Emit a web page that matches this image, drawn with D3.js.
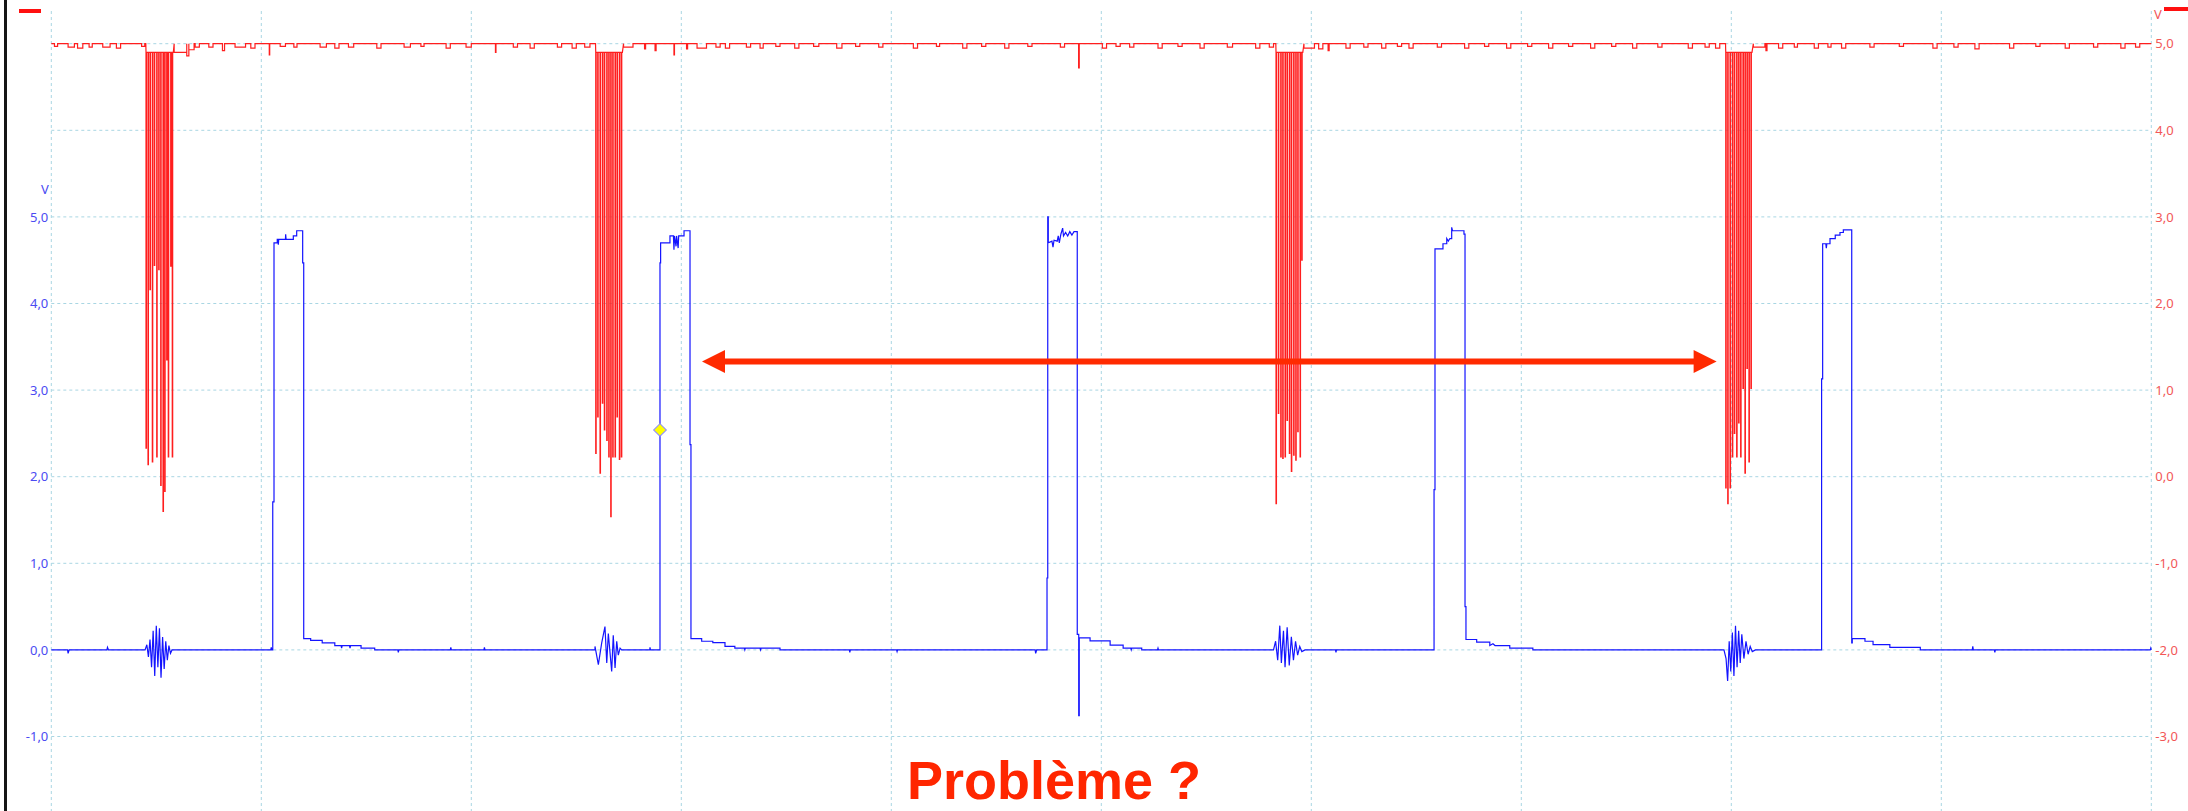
<!DOCTYPE html>
<html>
<head>
<meta charset="utf-8">
<script src="https://cdn.jsdelivr.net/npm/d3@7"></script>
<style>
  body { margin: 0; background: #fff; }
  svg { display: block; }
</style>
</head>
<body>
<div id="chart-area"></div>
<script>
// time grid in ms (10 divisions), voltage ticks for both channels
const timeTicks = [0, 20, 40, 60, 80, 100, 120, 140, 160, 180, 200];
const blueTicks = [-1, 0, 1, 2, 3, 4, 5];
const redTicks = [-3, -2, -1, 0, 1, 2, 3, 4, 5];

// channel B (blue) : [time ms, volts]
const blueTrace = [
  [0, 0], [1.55, 0], [1.6, -0.04], [1.7, 0], [5.3, 0], [5.35, 0.03], [5.45, 0],
  [8.93, 0], [9.1, 0.06], [9.25, -0.08], [9.4, 0.12], [9.55, -0.2], [9.7, 0.22], [9.85, -0.3],
  [10.0, 0.28], [10.15, -0.2], [10.3, 0.25], [10.45, -0.32], [10.6, 0.15], [10.75, -0.22],
  [10.9, 0.1], [11.05, -0.12], [11.2, 0.05], [11.35, -0.04], [11.5, 0],
  [20.9, 0], [20.95, 0.03], [21.0, 0],
  [21.09, 0], [21.09, 1.71], [21.21, 1.71], [21.21, 4.70], [21.52, 4.70], [21.52, 4.74],
  [21.6, 4.74], [21.62, 4.68], [21.66, 4.74], [22.3, 4.74], [22.32, 4.8], [22.36, 4.74],
  [23.05, 4.74], [23.05, 4.78], [23.37, 4.78], [23.37, 4.84], [23.94, 4.84], [23.94, 4.47],
  [24.04, 4.47], [24.04, 0.13], [24.7, 0.13], [24.7, 0.11], [25.8, 0.11], [25.8, 0.08],
  [27.0, 0.08], [27.0, 0.05], [27.6, 0.05], [27.65, 0.02], [27.7, 0.05], [28.4, 0.05],
  [28.45, 0.02], [28.5, 0.05], [29.5, 0.05], [29.5, 0.02], [30.8, 0.02], [30.8, 0],
  [33.0, 0], [33.05, -0.03], [33.1, 0], [38.0, 0], [38.05, 0.03], [38.1, 0],
  [41.2, 0], [41.25, 0.03], [41.3, 0],
  [51.78, 0], [51.78, 0.04], [52.1, -0.17], [52.42, 0.08], [52.73, 0.27], [52.9, -0.15],
  [53.05, 0.19], [53.37, -0.25], [53.52, 0.17], [53.69, -0.21], [53.85, 0.1], [54.0, -0.06],
  [54.17, 0.02], [54.32, 0],
  [57.0, 0], [57.02, 0.03], [57.06, 0],
  [57.97, 0], [57.97, 4.47], [58.03, 4.47], [58.03, 4.70], [58.92, 4.70], [58.92, 4.78],
  [59.25, 4.78], [59.3, 4.62], [59.35, 4.78], [59.5, 4.66], [59.55, 4.78], [59.7, 4.64],
  [59.75, 4.78], [60.26, 4.78], [60.26, 4.84], [60.83, 4.84], [60.83, 2.37], [60.92, 2.37],
  [60.92, 0.13], [61.94, 0.13], [61.94, 0.1], [63.0, 0.1], [63.0, 0.085], [64.16, 0.085],
  [64.16, 0.04], [65.1, 0.04], [65.1, 0.02], [66.0, 0.02], [66.05, 0], [66.1, 0.02],
  [67.5, 0.02], [67.55, 0], [67.6, 0.02], [69.4, 0.02], [69.4, 0],
  [76.0, 0], [76.05, -0.03], [76.1, 0], [80.5, 0], [80.55, -0.02], [80.6, 0],
  [93.7, 0], [93.75, -0.04], [93.85, 0],
  [94.83, 0], [94.83, 0.83], [94.9, 0.83], [94.9, 5.0], [94.95, 5.0], [94.95, 4.70],
  [95.3, 4.72], [95.4, 4.65], [95.5, 4.73], [95.8, 4.72], [95.9, 4.78], [96.0, 4.70],
  [96.15, 4.8], [96.32, 4.87], [96.4, 4.78], [96.6, 4.82], [96.8, 4.78], [97.0, 4.83],
  [97.2, 4.79], [97.4, 4.83], [97.71, 4.83], [97.71, 0.18], [97.85, 0.18], [97.85, -0.76],
  [97.9, -0.76], [97.9, 0.14], [98.93, 0.14], [98.93, 0.105], [100.84, 0.105], [100.84, 0.055],
  [102.08, 0.055], [102.08, 0.02], [102.8, 0.02], [102.85, 0], [102.9, 0.02], [103.85, 0.02],
  [103.85, 0], [105.35, 0], [105.4, 0.02], [105.45, 0],
  [116.4, 0], [116.6, 0.1], [116.8, -0.12], [117.0, 0.28], [117.15, -0.15], [117.35, 0.22],
  [117.5, -0.2], [117.7, 0.26], [117.9, -0.18], [118.1, 0.15], [118.3, -0.12], [118.5, 0.1],
  [118.7, -0.06], [118.9, 0.04], [119.1, -0.02], [119.4, 0],
  [122.3, 0], [122.35, -0.03], [122.4, 0],
  [131.69, 0], [131.69, 1.85], [131.78, 1.85], [131.78, 4.63], [132.54, 4.63], [132.54, 4.69],
  [132.9, 4.69], [132.9, 4.75], [133.05, 4.72], [133.2, 4.75], [133.37, 4.75], [133.37, 4.88],
  [133.45, 4.84], [134.54, 4.84], [134.54, 4.80], [134.64, 4.80], [134.64, 0.5], [134.73, 0.5],
  [134.73, 0.12], [135.75, 0.12], [135.75, 0.09], [137.0, 0.09], [137.0, 0.05], [137.3, 0.07],
  [137.5, 0.05], [138.9, 0.05], [138.9, 0.02], [141.1, 0.02], [141.1, 0],
  [159.3, 0], [159.5, -0.1], [159.65, -0.36], [159.8, 0.1], [159.95, -0.25], [160.1, 0.2],
  [160.25, -0.3], [160.4, 0.28], [160.55, -0.2], [160.7, 0.22], [160.85, -0.15], [161.0, 0.18],
  [161.2, -0.1], [161.4, 0.1], [161.6, -0.05], [161.8, 0.04], [162.0, -0.02], [162.3, 0],
  [168.6, 0], [168.6, 3.13], [168.7, 3.13], [168.7, 4.69], [169.0, 4.69], [169.05, 4.64],
  [169.1, 4.69], [169.4, 4.69], [169.4, 4.75], [169.9, 4.75], [169.9, 4.79], [170.35, 4.79],
  [170.35, 4.82], [170.67, 4.82], [170.67, 4.85], [171.47, 4.85], [171.47, 0.08], [171.52, 0.08],
  [171.52, 0.13], [172.73, 0.13], [172.73, 0.10], [173.5, 0.10], [173.5, 0.06], [175.1, 0.06],
  [175.1, 0.03], [178.0, 0.03], [178.0, 0],
  [182.95, 0], [183.0, 0.04], [183.05, 0], [185.05, 0], [185.1, -0.03], [185.15, 0],
  [199.9, 0], [199.95, 0.02], [200, 0]
];

// channel A (red) : spike bursts [time ms, lowest volts]
const redBurst1 = [[9.02, 0.33], [9.21, 0.14], [9.40, 2.16], [9.62, 0.17], [9.81, 2.44], [10.04, 0.23],
  [10.23, 2.39], [10.42, -0.1], [10.64, -0.4], [10.80, -0.17], [10.99, 1.35], [11.14, 0.23],
  [11.37, 2.43], [11.52, 0.23]];
const redBurst2 = [[51.85, 0.27], [52.04, 0.69], [52.26, 0.04], [52.48, 0.85], [52.67, 0.54],
  [52.90, 0.42], [53.09, 0.23], [53.28, -0.46], [53.47, 0.23], [53.69, 0.23], [53.88, 0.69],
  [54.10, 0.2], [54.29, 0.23]];
const redBurst3 = [[116.64, -0.31], [116.86, 0.73], [117.09, 0.23], [117.28, 0.21], [117.50, 0.23],
  [117.69, 0.65], [117.91, 0.27], [118.10, 0.06], [118.32, 0.25], [118.52, 0.19], [118.71, 0.52],
  [118.93, 0.23], [119.09, 2.5]];
const redBurst4 = [[159.47, -0.13], [159.66, -0.31], [159.88, -0.13], [160.1, 0.23], [160.29, 0.5],
  [160.51, 0.23], [160.70, 0.62], [160.89, 0.23], [161.11, 1.02], [161.30, 0.04], [161.49, 1.25],
  [161.68, 0.17], [161.87, 1.02]];

// small dips of the red trace off 5 V : [start ms, end ms, volts]
const redDips = [
  [0.3, 0.6, 4.97], [1.6, 2.2, 4.96], [2.5, 3.0, 4.95], [3.6, 3.9, 4.96], [4.9, 5.6, 4.96],
  [6.2, 6.6, 4.95], [8.6, 8.9, 4.97], [11.7, 12.9, 4.9], [12.9, 13.1, 4.86], [13.1, 13.6, 4.93],
  [13.7, 14.1, 4.96], [15.0, 15.4, 4.96], [16.3, 16.5, 4.92], [17.5, 18.5, 4.96], [19.0, 19.4, 4.95],
  [20.76, 20.8, 4.87], [21.8, 22.3, 4.97], [23.1, 23.4, 4.96], [25.6, 26.2, 4.96], [27.0, 27.4, 4.95],
  [28.3, 28.8, 4.96], [31.0, 31.4, 4.95], [33.6, 34.2, 4.96], [35.2, 35.5, 4.97], [37.6, 38.0, 4.95],
  [39.5, 40.0, 4.96], [42.3, 42.35, 4.9], [44.0, 44.4, 4.96], [45.6, 46.0, 4.95], [48.2, 48.6, 4.96],
  [49.6, 50.0, 4.95], [50.8, 51.3, 4.96], [54.5, 55.4, 4.96], [56.5, 56.6, 4.94], [57.5, 57.6, 4.92],
  [59.3, 59.35, 4.87], [60.5, 60.6, 4.94], [61.5, 62.4, 4.95], [63.3, 63.7, 4.96], [64.2, 64.6, 4.95],
  [66.2, 66.6, 4.96], [67.5, 67.8, 4.95], [69.0, 69.4, 4.97], [70.8, 71.2, 4.95], [72.6, 73.1, 4.97],
  [74.8, 75.3, 4.95], [76.6, 77.0, 4.97], [78.8, 79.2, 4.96], [82.1, 82.5, 4.95], [84.3, 84.6, 4.97],
  [86.8, 87.2, 4.95], [88.6, 89.0, 4.97], [90.8, 91.2, 4.95], [93.0, 93.4, 4.97], [96.1, 96.5, 4.96],
  [97.84, 97.9, 4.72], [100.1, 100.5, 4.95], [101.4, 101.8, 4.97], [102.7, 103.1, 4.96],
  [105.4, 105.8, 4.95], [107.3, 107.7, 4.97], [109.4, 109.8, 4.95], [112.0, 112.5, 4.96],
  [114.7, 115.1, 4.95], [116.0, 116.4, 4.96], [119.3, 120.3, 4.95], [120.7, 121.1, 4.94],
  [121.6, 121.7, 4.92], [123.3, 123.7, 4.95], [125.0, 125.4, 4.96], [126.7, 127.1, 4.95],
  [128.2, 128.6, 4.97], [129.3, 129.7, 4.95], [132.0, 132.4, 4.96], [134.6, 135.0, 4.95],
  [136.5, 136.9, 4.97], [138.6, 139.0, 4.95], [140.6, 141.0, 4.97], [142.6, 143.0, 4.95],
  [144.5, 144.9, 4.97], [146.6, 147.0, 4.95], [148.6, 149.0, 4.97], [150.6, 151.0, 4.95],
  [153.0, 153.4, 4.96], [155.9, 156.3, 4.95], [157.5, 157.9, 4.96], [158.5, 158.9, 4.95],
  [162.1, 163.2, 4.96], [163.3, 163.4, 4.92], [164.5, 164.9, 4.95], [166.0, 166.3, 4.96],
  [167.9, 168.3, 4.95], [169.2, 169.5, 4.96], [170.5, 170.9, 4.95], [173.2, 173.6, 4.96],
  [176.0, 176.4, 4.97], [179.2, 179.6, 4.95], [181.2, 181.6, 4.96], [183.2, 183.6, 4.94],
  [186.5, 186.9, 4.95], [189.0, 189.4, 4.97], [191.8, 192.2, 4.95], [194.5, 194.9, 4.96],
  [197.1, 197.5, 4.95], [198.5, 198.9, 4.96]
];

// cursor marker on channel B and the annotation arrow span
const cursorPoint = [57.97, 2.54];
const arrowSpan = [61.97, 158.6];
const arrowLevel = 3.33;

const W = 2188, H = 811;
const svg = d3.select('#chart-area')
  .append('svg')
  .attr('width', W)
  .attr('height', H);

const x = d3.scaleLinear().domain([0, 200]).range([51.3, 2151.3]);
const yBlue = d3.scaleLinear().domain([-1, 7]).range([736.5, 43.7]);
const yRed = d3.scaleLinear().domain([-3, 5]).range([736.5, 43.7]);

const fmt = (v) => v.toFixed(1).replace('.', ',');
const gridColor = '#a9d6e3';

// grid
const grid = svg.append('g');
grid.selectAll('line.h')
  .data(redTicks)
  .enter()
  .append('line')
  .attr('x1', x(0)).attr('x2', x(200))
  .attr('y1', (d) => yRed(d)).attr('y2', (d) => yRed(d))
  .attr('stroke', gridColor)
  .attr('stroke-dasharray', '3,3');
grid.selectAll('line.v')
  .data(timeTicks)
  .enter()
  .append('line')
  .attr('x1', (d) => x(d)).attr('x2', (d) => x(d))
  .attr('y1', 11).attr('y2', H)
  .attr('stroke', gridColor)
  .attr('stroke-dasharray', '3,3');

// axes
const leftAxis = svg.append('g')
  .attr('transform', 'translate(' + x(0) + ',0)')
  .call(d3.axisLeft(yBlue).tickValues(blueTicks).tickSize(0).tickPadding(3).tickFormat(fmt));
const rightAxis = svg.append('g')
  .attr('transform', 'translate(' + x(200) + ',0)')
  .call(d3.axisRight(yRed).tickValues(redTicks).tickSize(0).tickPadding(4).tickFormat(fmt));
leftAxis.select('.domain').remove();
rightAxis.select('.domain').remove();
leftAxis.selectAll('text').attr('fill', '#4b4bf2').style('font', '13px "Noto Sans"');
rightAxis.selectAll('text').attr('fill', '#f25757').style('font', '13px "Noto Sans"');

svg.append('text')
  .attr('x', 45).attr('y', 194)
  .attr('text-anchor', 'middle')
  .attr('fill', '#4b4bf2')
  .style('font', '13px "Noto Sans"')
  .text('V');
svg.append('text')
  .attr('x', 2154).attr('y', 19)
  .attr('fill', '#f25757')
  .style('font', '13px "Noto Sans"')
  .text('V');

// channel legend marks and the left frame bar
svg.append('rect').attr('x', 19).attr('y', 9).attr('width', 22).attr('height', 4).attr('fill', '#ff1010');
svg.append('rect').attr('x', 2164).attr('y', 7).attr('width', 24).attr('height', 4).attr('fill', '#ff1010');
svg.append('rect').attr('x', 4).attr('y', 0).attr('width', 3).attr('height', H).attr('fill', '#151515');

// red trace built from dips and bursts
const redEvents = [];
redDips.forEach((d) => {
  redEvents.push({ t: d[0], pts: [[d[0], 5], [d[0], d[2]], [d[1], d[2]], [d[1], 5]] });
});
[redBurst1, redBurst2, redBurst3, redBurst4].forEach((burst) => {
  const pts = [[burst[0][0] - 0.02, 5]];
  burst.forEach((s) => {
    pts.push([s[0], 4.9], [s[0], s[1]], [s[0] + 0.04, s[1]], [s[0] + 0.04, 4.9]);
  });
  pts.push([burst[burst.length - 1][0] + 0.1, 4.9]);
  redEvents.push({ t: burst[0][0], pts: pts });
});
redEvents.sort((a, b) => a.t - b.t);
const redTrace = [[0, 5]];
redEvents.forEach((e) => { e.pts.forEach((p) => redTrace.push(p)); });
redTrace.push([200, 5]);

const redLine = d3.line().x((d) => x(d[0])).y((d) => yRed(d[1]));
const blueLine = d3.line().x((d) => x(d[0])).y((d) => yBlue(d[1]));

svg.append('path')
  .datum(redTrace)
  .attr('d', redLine)
  .attr('fill', 'none')
  .attr('stroke', '#ff1e1e')
  .attr('stroke-width', 1.2);

svg.append('path')
  .datum(blueTrace)
  .attr('d', blueLine)
  .attr('fill', 'none')
  .attr('stroke', '#1414ff')
  .attr('stroke-width', 1.2);

// cursor diamond
svg.append('path')
  .attr('d', d3.symbol(d3.symbolSquare, 80)())
  .attr('transform', 'translate(' + x(cursorPoint[0]) + ',' + yBlue(cursorPoint[1]) + ') rotate(45)')
  .attr('fill', '#ffff00')
  .attr('stroke', '#8a8aff')
  .attr('stroke-width', 1);

// double arrow annotation
const ax0 = x(arrowSpan[0]), ax1 = x(arrowSpan[1]), ay = yBlue(arrowLevel);
const headL = 23, headH = 11.5;
const arrowColor = '#ff2a00';
svg.append('line')
  .attr('x1', ax0 + headL - 1).attr('x2', ax1 - headL + 1)
  .attr('y1', ay).attr('y2', ay)
  .attr('stroke', arrowColor)
  .attr('stroke-width', 6);
svg.append('path')
  .attr('d', 'M' + ax0 + ',' + ay + 'L' + (ax0 + headL) + ',' + (ay - headH) + 'L' + (ax0 + headL) + ',' + (ay + headH) + 'Z')
  .attr('fill', arrowColor);
svg.append('path')
  .attr('d', 'M' + ax1 + ',' + ay + 'L' + (ax1 - headL) + ',' + (ay - headH) + 'L' + (ax1 - headL) + ',' + (ay + headH) + 'Z')
  .attr('fill', arrowColor);

svg.append('text')
  .attr('x', 1054).attr('y', 799)
  .attr('text-anchor', 'middle')
  .attr('fill', '#ff2600')
  .style('font', 'bold 54px "Liberation Sans", Arial, sans-serif')
  .text('Problème ?');
</script>
</body>
</html>
